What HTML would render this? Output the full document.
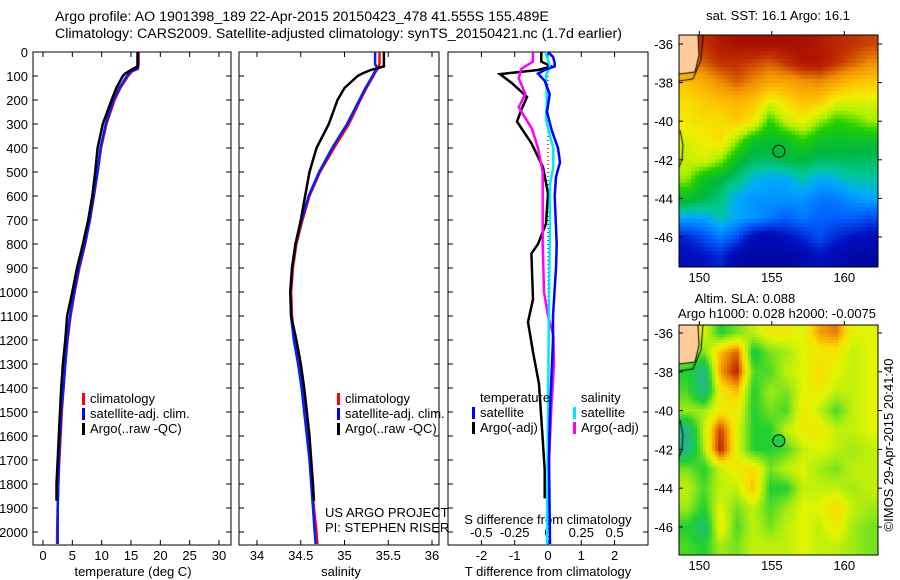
<!DOCTYPE html>
<html><head><meta charset="utf-8">
<style>
html,body{margin:0;padding:0;background:#fff;}
#wrap{position:relative;width:900px;height:580px;overflow:hidden;font-family:"Liberation Sans",Arial,sans-serif;}
canvas{position:absolute;}
svg{position:absolute;left:0;top:0;}
text{font-family:"Liberation Sans",Arial,sans-serif;font-size:13px;fill:#000;}
.title{font-size:14.2px;}
</style></head>
<body>
<div id="wrap">
<canvas id="sst" width="199" height="232" style="left:679px;top:35px"></canvas>
<canvas id="sla" width="199" height="230" style="left:679px;top:325px"></canvas>
<svg id="fig" width="900" height="580" xmlns="http://www.w3.org/2000/svg">
<text class="title" x="55" y="21">Argo profile: AO 1901398_189 22-Apr-2015 20150423_478 41.555S 155.489E</text>
<text class="title" x="55" y="38">Climatology: CARS2009. Satellite-adjusted climatology: synTS_20150421.nc (1.7d earlier)</text>
</svg>
</div>
<script>
// ---- profile data ----
const climDepth = [0,50,70,80,100,150,200,300,400,500,600,700,800,900,1000,1100,1200,1300,1400,1500,1600,1700,1800,1900,2000,2050];
const climTemp  = [16.3,16.3,16.2,15.2,14.5,13.2,12.2,10.8,9.9,9.3,8.7,8.0,7.2,6.2,5.4,4.7,4.2,3.8,3.5,3.2,3.0,2.8,2.6,2.5,2.4,2.4];
const satTemp   = [16.2,16.2,16.1,15.0,14.3,13.0,12.0,10.7,9.8,9.3,8.6,8.0,7.1,6.1,5.3,4.6,4.1,3.8,3.5,3.1,2.9,2.7,2.6,2.5,2.5,2.5];
const argoDepth = [0,60,75,90,100,150,200,300,400,500,600,700,800,900,1000,1100,1200,1300,1400,1500,1600,1700,1800,1870];
const argoTemp  = [16.1,16.1,15.0,14.0,13.6,12.5,11.7,10.2,9.3,8.9,8.4,7.7,6.8,5.8,5.0,4.1,3.8,3.4,3.1,2.9,2.7,2.5,2.3,2.3];
const climSal   = [35.4,35.4,35.38,35.36,35.33,35.25,35.18,35.05,34.88,34.72,34.6,34.52,34.45,34.41,34.39,34.4,34.43,34.48,34.52,34.55,34.58,34.61,34.63,34.65,34.68,34.69];
const satSal    = [35.35,35.35,35.38,35.35,35.32,35.24,35.17,35.03,34.86,34.71,34.59,34.51,34.44,34.4,34.38,34.39,34.42,34.47,34.51,34.54,34.57,34.6,34.62,34.64,34.66,34.67];
const argoSal   = [35.45,35.45,35.3,35.2,35.15,35.0,34.92,34.82,34.68,34.6,34.55,34.5,34.44,34.4,34.38,34.39,34.45,34.5,34.54,34.57,34.6,34.62,34.64,34.65];
const tdArgoDepth = [0,40,60,75,92,130,187,240,290,380,480,590,715,800,840,1030,1125,1250,1383,1525,1740,1860];
const tdArgo      = [-0.2,-0.2,0.1,-0.3,-1.44,-1.08,-0.63,-0.8,-0.93,-0.5,-0.15,0,-0.06,-0.3,-0.5,-0.45,-0.6,-0.45,-0.27,-0.2,-0.1,-0.1];
const tdSatDepth  = [0,20,45,60,75,90,120,175,250,330,400,460,520,600,800,900,1100,1200,1300,1500,1700,2050];
const tdSat       = [0,0.15,0.2,0.2,-0.1,-0.3,-0.1,0.05,-0.03,0.12,0.3,0.36,0.24,0.2,0.26,0.24,0.15,0.15,0.12,0.06,0.03,0.06];
const sdArgoDepth = [0,40,70,110,175,230,320,400,500,600,800,1000,1100,1180,1300,1500,1700,1900];
const sdArgo      = [-0.113,-0.113,-0.2,-0.22,-0.17,-0.22,-0.12,-0.075,-0.04,-0.04,-0.04,-0.03,0.0,0.04,0.045,0.023,0.008,0.008];
const sdSatDepth  = [0,60,100,200,280,350,400,480,550,700,1000,1500,2050];
const sdSat       = [-0.02,0.015,-0.015,-0.008,-0.015,0.015,0.04,0.04,0.015,0.015,0.008,0.0,-0.008];
const depthTicks = [0,100,200,300,400,500,600,700,800,900,1000,1100,1200,1300,1400,1500,1600,1700,1800,1900,2000];
const tempTicks = [0,5,10,15,20,25,30];
const salTicks = [34,34.5,35,35.5,36];
const tdTicks = [-2,-1,0,1,2];
const sdTicks = [-0.5,-0.25,0,0.25,0.5];
// ---- map data (coarse grids, rows span lat -35.5..-47.5, cols span lon 148.6..162.3) ----
const sstGrid = [
[.9,.9,.95,.97,.97,.97,.97,.97,.95,.92,.9,.88],
[.8,.85,.9,.9,.88,.85,.9,.95,.95,.9,.85,.8],
[.7,.74,.8,.85,.8,.75,.75,.78,.8,.75,.7,.68],
[.65,.68,.7,.72,.7,.6,.65,.7,.68,.6,.6,.6],
[.63,.65,.65,.68,.63,.5,.58,.62,.55,.5,.52,.55],
[.6,.62,.65,.55,.45,.44,.45,.5,.45,.45,.45,.45],
[.58,.6,.55,.45,.4,.4,.42,.42,.4,.4,.4,.4],
[.55,.45,.42,.38,.32,.3,.3,.35,.3,.32,.35,.35],
[.45,.42,.38,.3,.28,.28,.28,.28,.25,.25,.28,.3],
[.3,.3,.35,.3,.28,.25,.22,.25,.22,.22,.22,.2],
[.15,.2,.25,.2,.1,.08,.12,.15,.2,.15,.12,.1],
[.1,.12,.15,.08,.05,.05,.05,.08,.12,.08,.06,.05]];
const slaGrid = [
[.6,.55,.3,.4,.5,.6,.6,.55,.75,.8,.55,.55],
[.5,.4,.7,.85,.25,.4,.45,.55,.6,.6,.5,.55],
[.3,.1,.75,.95,.35,.35,.5,.55,.65,.55,.5,.55],
[.35,.1,.6,.7,.3,.45,.4,.55,.6,.5,.5,.55],
[.45,.45,.6,.6,.3,.4,.35,.6,.5,.35,.5,.55],
[.1,.5,.9,.55,.3,.3,.5,.6,.6,.5,.5,.55],
[.1,.45,.95,.55,.3,.3,.35,.5,.55,.5,.45,.5],
[.4,.3,.5,.6,.65,.4,.5,.55,.45,.4,.5,.5],
[.5,.35,.5,.5,.7,.3,.3,.5,.5,.5,.45,.5],
[.45,.3,.55,.4,.5,.35,.45,.55,.55,.65,.5,.45],
[.3,.15,.6,.35,.5,.4,.5,.55,.5,.6,.45,.4],
[.35,.3,.45,.4,.5,.5,.5,.55,.5,.5,.45,.4]];
const lonTicks = [150,155,160];
const latTicks = [-36,-38,-40,-42,-44,-46];
const floatLon = 155.489, floatLat = -41.555;

const NS='http://www.w3.org/2000/svg';
const svg=document.getElementById('fig');
function el(tag,attrs,parent){const e=document.createElementNS(NS,tag);for(const k in attrs)e.setAttribute(k,attrs[k]);(parent||svg).appendChild(e);return e;}
const Y0=52,Y1=545;
const yD=d=>Y0+d*0.24;
const xT=t=>43+t*(219-43)/30;
const xS=s=>257+(s-34)*87.5;
const xTd=t=>548+t*33.3;
const xSd=s=>548+s*133.2;
const panels=[[33,231],[239,439],[448,648]];

function polyline(xs,ds,fx,color,w,name){
  let p=ds.map((d,i)=>fx(xs[i]).toFixed(1)+','+yD(d).toFixed(1)).join(' ');
  const e=el('polyline',{points:p,fill:'none',stroke:color,'stroke-width':w,'stroke-linejoin':'miter'});
  
  
}
function text(x,y,s,name,anchor,extra){
  const t=el('text',Object.assign({x:x,y:y,'text-anchor':anchor||'start'},extra||{}));
  t.textContent=s;
  
  
  return t;
}
panels.forEach((p,i)=>{
  const r=el('rect',{x:p[0],y:Y0,width:p[1]-p[0],height:Y1-Y0,fill:'none',stroke:'#000','stroke-width':1});
  
  
});
depthTicks.forEach(d=>{
  const y=yD(d);
  text(28,y+5,String(d),'depth-tick-label','end');
  panels.forEach(p=>{
    const l=el('line',{x1:p[0],x2:p[0]+5,y1:y,y2:y,stroke:'#000'});
    
    
    const l2=el('line',{x1:p[1],x2:p[1]-5,y1:y,y2:y,stroke:'#000'});
    
    
  });
});
function xticks(ticks,fx,tag){
  ticks.forEach((t)=>{
    const x=fx(t);
    const l=el('line',{x1:x,x2:x,y1:Y1,y2:Y1-5,stroke:'#000'});
    
    
    const l2=el('line',{x1:x,x2:x,y1:Y0,y2:Y0+5,stroke:'#000'});
    
    
    text(x,560,String(t),tag+'-tick-label','middle');
  });
}
xticks(tempTicks,xT,'temperature');
xticks(salTicks,xS,'salinity');
xticks(tdTicks,xTd,'t-diff');
text(133,576,'temperature (deg C)','temperature-axis-title','middle');
text(341,576,'salinity','salinity-axis-title','middle');
text(548,576,'T difference from climatology','t-diff-axis-title','middle');
sdTicks.forEach(s=>{text(xSd(s),537,String(s),'s-diff-tick-label','middle');});
text(548,524,'S difference from climatology','s-diff-axis-title','middle');
const zl=el('line',{x1:548,x2:548,y1:Y0,y2:Y1,stroke:'#000','stroke-dasharray':'1,3'});


polyline(climTemp,climDepth,xT,'#ff0000',2.5,'temp-climatology-line');
polyline(satTemp,climDepth,xT,'#0020ff',2.5,'temp-satellite-line');
polyline(argoTemp,argoDepth,xT,'#000',2.5,'temp-argo-line');
polyline(climSal,climDepth,xS,'#ff0000',2.5,'sal-climatology-line');
polyline(satSal,climDepth,xS,'#0020ff',2.5,'sal-satellite-line');
polyline(argoSal,argoDepth,xS,'#000',2.5,'sal-argo-line');
polyline(tdArgo,tdArgoDepth,xTd,'#000',2.5,'tdiff-argo-line');
polyline(sdArgo,sdArgoDepth,xSd,'#ff00ff',2.5,'sdiff-argo-line');
polyline(sdSat,sdSatDepth,xSd,'#00e8ff',2.5,'sdiff-satellite-line');
polyline(tdSat,tdSatDepth,xTd,'#0000ff',2.5,'tdiff-satellite-line');
function legend(x,y,items,name){
  items.forEach((it,i)=>{
    if(it[1]){const r=el('rect',{x:x,y:y+i*15-10,width:3,height:12,fill:it[1]});
    
    }
    text(x+8,y+i*15,it[0],name+'-entry');
  });
}
legend(82,403,[['climatology','#f00'],['satellite-adj. clim.','#00f'],['Argo(..raw -QC)','#000']],'temp-legend');
legend(337,403,[['climatology','#f00'],['satellite-adj. clim.','#00f'],['Argo(..raw -QC)','#000']],'sal-legend');
legend(472,402,[['temperature',null],['satellite','#00f'],['Argo(-adj)','#000']],'tdiff-legend');
legend(573,402,[['salinity',null],['satellite','#00e8ff'],['Argo(-adj)','#f0f']],'sdiff-legend');
text(325,517,'US ARGO PROJECT','project-label');
text(325,532,'PI: STEPHEN RISER','pi-label');

// ---- maps ----
const LON0=148.6,LON1=162.3,LAT0=-35.5,LAT1=-47.5;
function mx(lon){return 679+(lon-LON0)*14.5;}
const sstStops=[[0,[0,0,144]],[.12,[0,16,192]],[.22,[0,96,255]],[.3,[0,168,255]],[.36,[0,200,150]],[.42,[0,184,64]],[.5,[32,208,0]],[.56,[176,240,0]],[.62,[240,240,0]],[.7,[255,192,0]],[.8,[240,144,0]],[.9,[192,48,0]],[1,[160,0,0]]];
const slaStops=[[0,[32,176,160]],[.15,[32,190,120]],[.3,[32,208,48]],[.45,[160,235,20]],[.55,[225,245,0]],[.65,[250,220,0]],[.75,[245,160,0]],[.9,[200,60,0]],[1,[160,0,0]]];
function cmap(stops,v){v=Math.max(0,Math.min(1,v));for(let i=1;i<stops.length;i++){if(v<=stops[i][0]){const a=stops[i-1],b=stops[i];const f=(v-a[0])/(b[0]-a[0]);return a[1].map((c,k)=>Math.round(c+(b[1][k]-c)*f));}}return stops[stops.length-1][1];}
function sample(g,lon,lat){
  const c=Math.max(0,Math.min(10.999,(lon-LON0)/(LON1-LON0)*12-0.5));
  const r=Math.max(0,Math.min(10.999,(lat-LAT0)/(LAT1-LAT0)*12-0.5));
  const c0=Math.floor(c),r0=Math.floor(r),fc=c-c0,fr=r-r0;
  const a=g[r0][c0],b=g[r0][c0+1],d=g[r0+1][c0],e=g[r0+1][c0+1];
  return a*(1-fc)*(1-fr)+b*fc*(1-fr)+d*(1-fc)*fr+e*fc*fr;
}
function drawMap(id,grid,stops,latPix,block){
  const cv=document.getElementById(id),ctx=cv.getContext('2d');
  for(let y=0;y<cv.height;y+=block){for(let x=0;x<cv.width;x+=block){
    const lon=LON0+(x+block/2)/14.5, lat=latPix(y+block/2);
    const c=cmap(stops,sample(grid,lon,lat));
    ctx.fillStyle='rgb('+c.join(',')+')';ctx.fillRect(x,y,block,block);
  }}
  ctx.fillStyle='#ffcc99';
  ctx.beginPath();ctx.moveTo(0,0);ctx.lineTo(19,0);ctx.lineTo(20,20);ctx.lineTo(16,37);ctx.lineTo(0,39);ctx.closePath();ctx.fill();
  ctx.strokeStyle='#000';ctx.lineWidth=1;
  ctx.beginPath();ctx.moveTo(19,0);ctx.lineTo(20,20);ctx.lineTo(16,37);ctx.lineTo(0,39);ctx.stroke();
  ctx.beginPath();ctx.moveTo(24,0);ctx.lineTo(22,25);ctx.lineTo(14,44);ctx.lineTo(0,46);ctx.stroke();
  ctx.beginPath();ctx.moveTo(1,95);ctx.lineTo(4,110);ctx.lineTo(3,125);ctx.lineTo(0,132);ctx.stroke();
}
const sstLat=y=>-36-(y+35-44)/19.3;
const slaLat=y=>-36-(y+325-333)/19.4;
drawMap('sst',sstGrid,sstStops,sstLat,4);
drawMap('sla',slaGrid,slaStops,slaLat,3);
function mapAxes(top,bot,latY,name,circFill){
  const r=el('rect',{x:679,y:top,width:199,height:bot-top,fill:'none',stroke:'#000'});
  
  
  latTicks.forEach(l=>{const y=latY(l);
    text(673,y+5,String(l),name+'-lat-label','end');
    const t=el('line',{x1:679,x2:683,y1:y,y2:y,stroke:'#000'});
    
    
    const t2=el('line',{x1:878,x2:882,y1:y,y2:y,stroke:'#000'});
    
    });
  lonTicks.forEach(l=>{const x=mx(l);
    text(x,bot+15,String(l),name+'-lon-label','middle');
    const t=el('line',{x1:x,x2:x,y1:top-4,y2:top,stroke:'#000'});
    
    });
  const c=el('circle',{cx:mx(floatLon),cy:latY(floatLat),r:6,fill:circFill,stroke:'#000'});
  
  
}
mapAxes(35,267,l=>44+(-36-l)*19.3,'sst-map','none');
mapAxes(325,555,l=>333+(-36-l)*19.4,'sla-map','#20d040');
text(778,20,'sat. SST: 16.1 Argo: 16.1','sst-map-title','middle');
text(745,303,'Altim. SLA: 0.088','sla-map-title','middle');
text(777,318,'Argo h1000: 0.028 h2000: -0.0075','sla-map-subtitle','middle');
text(0,0,'©IMOS 29-Apr-2015 20:41:40','timestamp-label','middle',{transform:'translate(893,445) rotate(-90)'});
</script>
</body></html>
